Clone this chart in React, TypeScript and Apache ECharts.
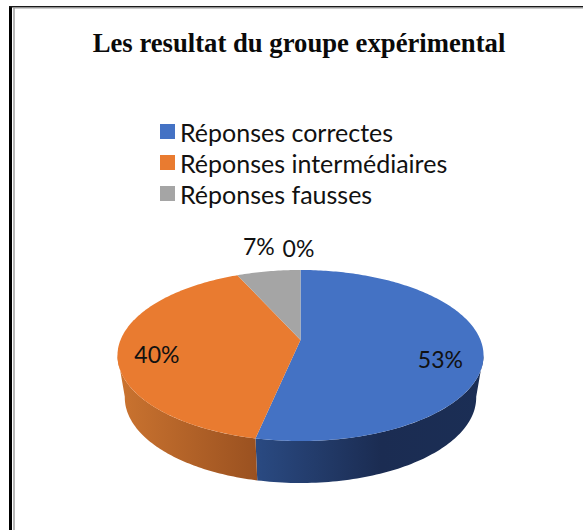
import React, { useEffect, useRef } from "react";
import * as echarts from "echarts";

const TITLE = "Les resultat du groupe expérimental";
const categories = ["Réponses correctes", "Réponses intermédiaires", "Réponses fausses", ""];
const values = [53.3, 40, 6.7, 0];
const labels = ["53%", "40%", "7%", "0%"];
const faceColors = ["#4472C4", "#E97B30", "#A5A5A5", "#FFC000"];
const sideStops = [
  [[0, "#2A4A82"], [0.55, "#1B2C52"], [1, "#1B2E55"]],
  [[0, "#CB7430"], [1, "#9A5120"]],
  [[0, "#707070"], [1, "#606060"]],
  [[0, "#A07800"], [1, "#A07800"]],
];
// pie projection constants
const CX = 300.5, APEX_Y = 340, D = 180, C = -0.1813, A = 21.06;
const DEPTH = 42, BOTTOM_X_SCALE = 0.96;
const LABEL_POS = [
  { r: 0.77, dy: 12, dx: 0 },
  { r: 0.79, dy: 7, dx: 0 },
  { r: 1.1, dy: -20, dx: -7 },
  { r: 1.1, dy: -16, dx: -2 },
];

function projectFace(theta: number, r = 1) {
  const X = Math.sin(theta) * r, Y = -Math.cos(theta) * r;
  const den = 1 + C * Y;
  return [CX + (X * D) / den, (A * Y + APEX_Y) / den];
}
function projectBottom(theta: number) {
  const p = projectFace(theta);
  return [CX + (p[0] - CX) * BOTTOM_X_SCALE, p[1] + DEPTH];
}
const total = values.reduce((a, b) => a + b, 0);
function startAngle(i: number) {
  let s = 0;
  for (let k = 0; k < i; k++) s += values[k];
  return (s / total) * 2 * Math.PI;
}
const FRONT_A = (100 * Math.PI) / 180, FRONT_B = (260 * Math.PI) / 180;

function sliceSeries(i: number) {
  return {
    type: "custom",
    name: categories[i],
    coordinateSystem: "none",
    silent: true,
    z: 2,
    itemStyle: { color: faceColors[i] },
    data: [[values[i]]],
    renderItem: (_p: any, api: any) => {
      const a0 = startAngle(i);
      const a1 = a0 + (api.value(0) / total) * 2 * Math.PI;
      const children: any[] = [];
      const sa = Math.max(a0, FRONT_A), sb = Math.min(a1, FRONT_B);
      if (sb > sa) {
        const top: number[][] = [], bot: number[][] = [];
        const n = 80;
        for (let k = 0; k <= n; k++) {
          const t = sa + ((sb - sa) * k) / n;
          top.push(projectFace(t));
          bot.push(projectBottom(t));
        }
        const grad = new echarts.graphic.LinearGradient(0, 0, 1, 0,
          sideStops[i].map((st: any) => ({ offset: st[0], color: st[1] })));
        children.push({
          type: "polygon",
          z2: 1,
          shape: { points: top.concat(bot.reverse()) },
          style: { fill: grad },
        });
      }
      if (a1 > a0) {
        const pts: number[][] = [projectFace(0, 0)];
        const n = Math.max(2, Math.ceil((a1 - a0) * 60));
        for (let k = 0; k <= n; k++) pts.push(projectFace(a0 + ((a1 - a0) * k) / n));
        children.push({
          type: "polygon",
          z2: 5,
          shape: { points: pts },
          style: { fill: faceColors[i] },
        });
      }
      const mid = (a0 + a1) / 2;
      const lp = projectFace(mid, LABEL_POS[i].r);
      children.push({
        type: "text",
        z2: 10,
        x: lp[0] + LABEL_POS[i].dx,
        y: lp[1] + LABEL_POS[i].dy,
        style: {
          text: labels[i],
          fill: "#111111",
          font: "23px Lato",
          align: "center",
          verticalAlign: "middle",
        },
      });
      return { type: "group", children };
    },
  };
}

export default function App() {
  const ref = useRef<HTMLDivElement>(null);
  useEffect(() => {
    document.body.style.margin = "0";
    const chart = echarts.init(ref.current!, undefined, { renderer: "svg" });
    chart.setOption({
      animation: false,
      backgroundColor: "#FFFFFF",
      title: {
        text: TITLE,
        left: 294,
        textAlign: "center",
        top: 24,
        textStyle: { fontFamily: "Liberation Serif", fontWeight: "bold", fontSize: 26.7, color: "#0A0A0A" },
      },
      legend: {
        orient: "vertical",
        left: 155,
        top: 113,
        icon: "rect",
        itemWidth: 15,
        itemHeight: 15,
        itemGap: 4,
        data: categories.slice(0, 3),
        selectedMode: false,
        textStyle: { fontFamily: "Lato", fontSize: 25, color: "#111111", lineHeight: 27 },
      },
      graphic: [
        { type: "rect", shape: { x: 9, y: 6, width: 3, height: 524 }, style: { fill: "#000000" } },
        { type: "rect", shape: { x: 9, y: 6, width: 574, height: 1.5 }, style: { fill: "#1A1A1A" } },
        { type: "rect", shape: { x: 13.3, y: 7.5, width: 1.4, height: 522.5 }, style: { fill: "#9A9A9A" } },
        { type: "rect", shape: { x: 13.3, y: 7.5, width: 569.7, height: 1 }, style: { fill: "#9A9A9A" } },
      ],
      series: categories.map((_, i) => sliceSeries(i)),
    });
    return () => chart.dispose();
  }, []);
  return <div ref={ref} style={{ position: "fixed", left: 0, top: 0, width: 583, height: 530 }} />;
}
